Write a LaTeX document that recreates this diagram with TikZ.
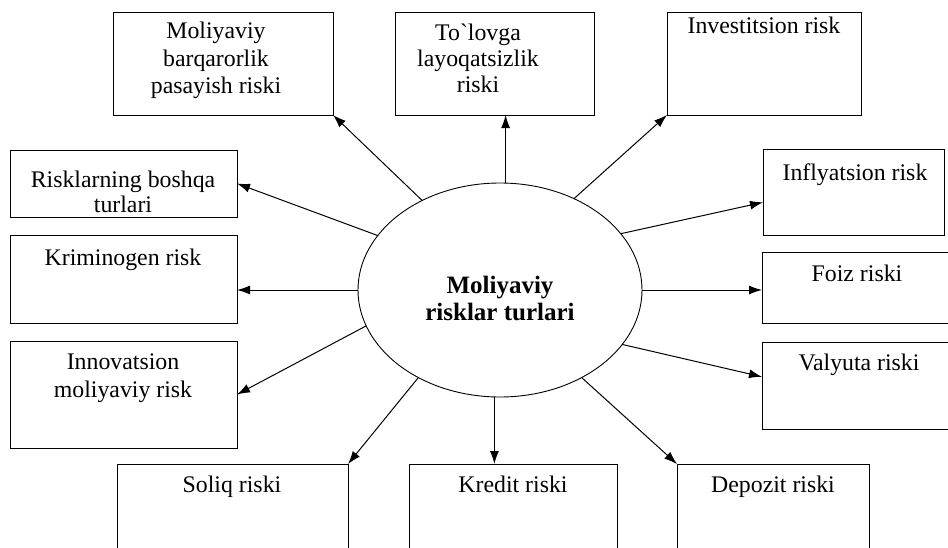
\documentclass[tikz,border=0pt]{standalone}
\usepackage{fontspec}
\setmainfont{Liberation Serif}
\usetikzlibrary{shapes.geometric,arrows.meta,calc}
\begin{document}
\begin{tikzpicture}[x=1pt,y=-1pt,
  box/.style={draw,line width=0.9pt,rectangle,inner sep=0pt,outer sep=0pt},
  lbl/.style={inner sep=0pt,align=center,font=\fontsize{23.8}{27}\selectfont},
  arr/.style={line width=1pt,-{Latex[length=13pt,width=9pt]}},
  hub/.style={draw,line width=0.9pt,ellipse,inner sep=0pt,outer sep=0pt,minimum width=284pt,minimum height=214pt}]
\useasboundingbox (0,0) rectangle (948,547);
\fill[white] (0,0) rectangle (948,547);
% boxes
\node[box,minimum width=220pt,minimum height=103pt] (b1) at (223,63.5) {};
\node[box,minimum width=199pt,minimum height=103pt] (b2) at (494.5,63.5) {};
\node[box,minimum width=194pt,minimum height=103pt] (b3) at (764,63.5) {};
\node[box,minimum width=227pt,minimum height=67pt] (b4) at (123.5,183.5) {};
\node[box,minimum width=227pt,minimum height=88pt] (b5) at (123.5,279) {};
\node[box,minimum width=227pt,minimum height=107pt] (b6) at (123.5,394.5) {};
\node[box,minimum width=231pt,minimum height=100pt] (b7) at (232.5,514) {};
\node[box,minimum width=208pt,minimum height=100pt] (b8) at (513,514) {};
\node[box,minimum width=192pt,minimum height=100pt] (b9) at (773,514) {};
\node[box,minimum width=198pt,minimum height=87pt] (b10) at (861,385.5) {};
\node[box,minimum width=198pt,minimum height=71pt] (b11) at (861,287.5) {};
\node[box,minimum width=181pt,minimum height=86pt] (b12) at (853.5,192) {};
% hub
\node[hub] (e) at (500,290) {};
% labels
\node[lbl,anchor=north,font=\fontsize{23.8}{27.5}\selectfont] (t1) at (216,22) {Moliyaviy\\barqarorlik\\pasayish riski};
\node[lbl,anchor=north,font=\fontsize{23.8}{26}\selectfont] (t2) at (478,24) {To\textasciigrave lovga\\layoqatsizlik\\riski};
\node[lbl,anchor=base] (t3) at (764,33) {Investitsion risk};
\node[lbl,anchor=north,font=\fontsize{23.8}{25}\selectfont] (t4) at (123,171) {Risklarning boshqa\\turlari};
\node[lbl,anchor=base] (t5) at (123,265) {Kriminogen risk};
\node[lbl,anchor=north,font=\fontsize{23.8}{28}\selectfont] (t6) at (123,354) {Innovatsion\\moliyaviy risk};
\node[lbl,anchor=base] (t7) at (232,492) {Soliq riski};
\node[lbl,anchor=base] (t8) at (513,492) {Kredit riski};
\node[lbl,anchor=base] (t9) at (773,492) {Depozit riski};
\node[lbl,anchor=base] (t10) at (859,370) {Valyuta riski};
\node[lbl,anchor=base] (t11) at (857,281) {Foiz riski};
\node[lbl,anchor=base] (t12) at (855,180) {Inflyatsion risk};
\node[lbl,anchor=north,font=\fontsize{25}{27}\bfseries\selectfont] (tc) at (500,276) {Moliyaviy\\risklar turlari};
% arrows
\draw[arr] (e.131.6) -- (b1.south east);
\draw[arr] (e.87) -- (e.87 |- b2.south);
\draw[arr] (e.51.9) -- (b3.south west);
\draw[arr] (e.156.9) -- (b4.east);
\draw[arr] (e.west) -- (e.west -| b5.east);
\draw[arr] (e.195.7) -- (b6.east);
\draw[arr] (e.227.7) -- (b7.north east);
\draw[arr] (e.267.3) -- (e.267.3 |- b8.north);
\draw[arr] (e.313.3) -- (b9.north west);
\draw[arr] (e.336.7) -- ($(b10.north west)!0.4!(b10.south west)$);
\draw[arr] (e.east) -- (e.east -| b11.west);
\draw[arr] (e.25) -- ($(b12.north west)!0.62!(b12.south west)$);
\end{tikzpicture}
\end{document}
